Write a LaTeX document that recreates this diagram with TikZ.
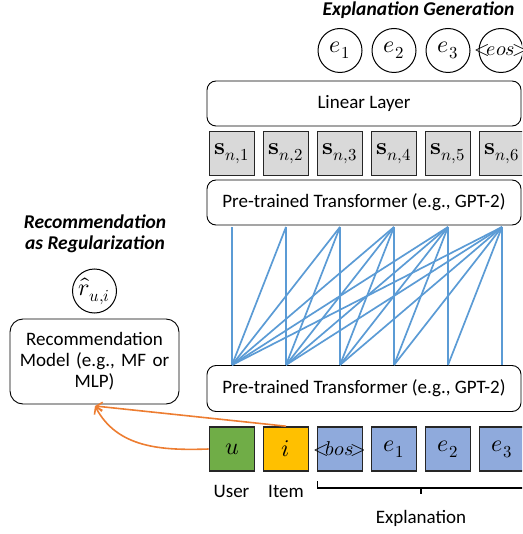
\documentclass[tikz,border=0pt]{standalone}
\usepackage{fontspec}
\usepackage{unicode-math}
\setmainfont{Carlito}
\setmathfont{Latin Modern Math}
\usetikzlibrary{arrows.meta,calc}
\definecolor{blueline}{HTML}{5B9BD5}
\definecolor{orng}{HTML}{ED7D31}
\definecolor{ugreen}{HTML}{70AD47}
\definecolor{iyellow}{HTML}{FFC000}
\definecolor{eblue}{HTML}{8FAADC}
\definecolor{sgray}{HTML}{D9D9D9}
\definecolor{edge}{HTML}{262626}
\tikzset{
  txt/.style={font=\fontsize{19}{22}\selectfont},
  mth/.style={font=\fontsize{24}{28}\selectfont},
  tagtxt/.style={font=\fontsize{20}{24}\selectfont},
  title/.style={font=\fontsize{19.5}{23}\selectfont\bfseries\itshape, align=center},
  rbox/.style={draw=black, line width=0.9pt, rounded corners=9pt, txt, align=center},
  sqbox/.style={draw=edge, line width=1.6pt, minimum width=45pt, minimum height=44pt, inner sep=0pt, mth},
  circ/.style={draw=black, line width=1pt, circle, minimum size=44pt, inner sep=0pt, mth},
  attn/.style={draw=blueline, line width=1.7pt},
  oarrow/.style={draw=orng, line width=1.6pt, -{Straight Barb[length=6pt,width=9pt]}},
}
\begin{document}
\begin{tikzpicture}[x=1pt,y=-1pt]
\path[use as bounding box] (0,0) rectangle (522,534);
\begin{scope}
\clip (0,0) rectangle (522,534);
% titles
\node[title, anchor=east] (tgen) at (518,10) {Explanation Generation};
\node[title] (treg) at (95,234) {Recommendation\\[-2pt]as Regularization};
% output circles
\node[circ] (o1) at (340,50.5) {$e_1$};
\node[circ] (o2) at (394,50.5) {$e_2$};
\node[circ] (o3) at (448,50.5) {$e_3$};
\node[circ, tagtxt] (o4) at (501,50.5) {\makebox[0pt]{$\mathord{<}\!eos\!\mathord{>}$}};
% linear layer
\node[rbox, minimum width=314pt, minimum height=45pt] (lin) at (364,103.5) {Linear Layer};
% hidden states
\foreach \k/\x in {1/232,2/286,3/340,4/394,5/448,6/502}{
  \node[sqbox, fill=sgray] (s\k) at (\x,153.5) {$\symbf{s}_{n,\k}$};
}
% transformers
\node[rbox, minimum width=314pt, minimum height=45pt] (tup) at (364,202.5) {Pre-trained Transformer (e.g., GPT-2)};
\node[rbox, minimum width=314pt, minimum height=46pt] (tlo) at (364,388.5) {Pre-trained Transformer (e.g., GPT-2)};
% attention coordinates
\foreach \k/\x in {1/232,2/286,3/340,4/394,5/448,6/502}{
  \coordinate (a\k) at (\x,227);
  \coordinate (b\k) at (\x,365);
}
\foreach \j in {1,...,6}{
  \foreach \i in {1,...,\j}{
    \draw[attn] (a\j) -- (b\i);
  }
}
% input tokens
\node[sqbox, fill=ugreen] (u) at (232,449) {$u$};
\node[sqbox, fill=iyellow] (it) at (286,449) {$i$};
\node[sqbox, fill=eblue, tagtxt] (bos) at (340,449) {\makebox[0pt]{$\mathord{<}\!bos\!\mathord{>}$}};
\node[sqbox, fill=eblue] (x1) at (394,449) {$e_1$};
\node[sqbox, fill=eblue] (x2) at (448,449) {$e_2$};
\node[sqbox, fill=eblue] (x3) at (502,449) {$e_3$};
% labels
\node[txt] (lu) at (231.5,491) {User};
\node[txt] (li) at (286,491) {Item};
\coordinate (brl) at (317.5,481);
\coordinate (brr) at (525,481);
\coordinate (brm) at (421,488);
\draw[line width=1.8pt, black] (brl) -- ++(0,7) -- (brr |- brm) -- ++(0,-7);
\draw[line width=1.8pt, black] (brm) -- ++(0,6);
\node[txt] (lexp) at (421,518) {Explanation};
% recommendation side
\node[circ] (rhat) at (94.5,291) {$\hat{r}_{u,i}$};
\node[rbox, rounded corners=13pt, minimum width=169pt, minimum height=85pt, text width=165pt, inner sep=0pt] (rec) at (94.5,361.5) {Recommendation\\[-1pt]Model (e.g., MF or\\[-1pt]MLP)};
\coordinate (tip) at (95,406);
\draw[oarrow] (it.north) -- (tip);
\draw[oarrow] (u.west) to[out=182,in=-62] (tip);
\end{scope}
\end{tikzpicture}
\end{document}
